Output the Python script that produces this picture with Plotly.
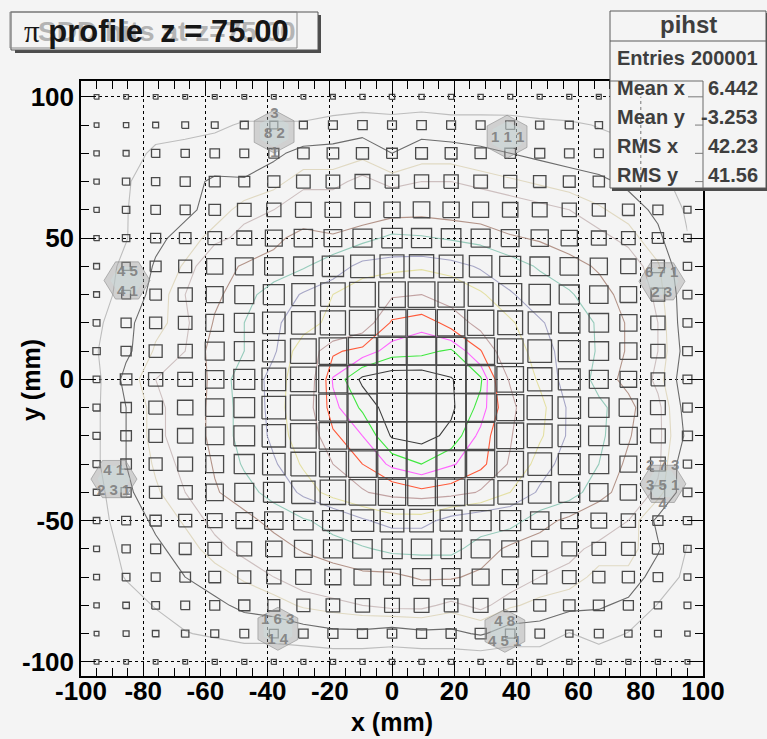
import plotly.graph_objects as go
import math

# ---------------- data ----------------
x_centers = [-95, -85.5, -76, -66.5, -57, -47.5, -38, -28.5, -19, -9.5, 0,
             9.5, 19, 28.5, 38, 47.5, 57, 66.5, 76, 85.5, 95]
y_centers = [100, 90, 80, 70, 60, 50, 40, 30, 20, 10, 0,
             -10, -20, -30, -40, -50, -60, -70, -80, -90, -100]
x_bin_width = 9.5
y_bin_width = 10
z_max = 1000

# bin contents, rows from y=100 (top) to y=-100 (bottom)
counts = [
    [160,160,160,160,160,160,160,160,165,175,180, 180,175,175,170,170,170,165,160,160,155],
    [160,180,200,230,230,270,270,270,300,320,300, 320,300,300,300,280,270,250,230,200,180],
    [180,200,280,280,320,300,340,390,390,410,360, 400,400,380,360,340,320,300,280,250,200],
    [180,250,280,340,370,370,410,460,460,500,460, 480,480,460,440,420,400,380,340,280,220],
    [180,250,320,340,390,460,480,530,530,530,550, 560,550,540,520,500,480,440,400,340,240],
    [180,250,340,390,460,500,570,620,600,640,690, 680,660,640,600,580,550,500,460,380,260],
    [200,280,370,440,550,600,620,660,720,800,810, 820,800,760,710,660,620,580,520,440,280],
    [200,300,390,480,570,640,710,780,830,870,900, 905,885,840,780,720,680,620,560,460,300],
    [230,340,410,460,600,670,760,800,850,880,945, 955,930,890,840,780,720,660,580,480,300],
    [250,340,440,480,640,670,760,870,935,950,968, 970,978,942,870,800,740,660,580,480,320],
    [230,390,480,500,620,710,800,870,962,994,1000, 1000,991,978,900,820,740,640,560,460,300],
    [240,360,460,520,620,700,800,880,955,978,1000, 998,993,970,920,850,760,690,620,500,320],
    [240,360,460,520,620,700,790,870,935,960,992, 996,986,955,910,840,760,690,600,500,340],
    [240,360,440,500,600,680,760,840,905,940,965, 975,962,950,900,800,740,670,570,500,280],
    [220,340,420,480,580,640,700,790,860,900,925, 935,930,900,830,760,710,620,550,460,300],
    [220,300,380,440,500,560,620,660,700,760,800, 800,740,710,710,620,570,530,480,340,280],
    [200,280,340,400,460,500,550,600,640,660,690, 690,690,640,570,550,500,460,460,370,250],
    [200,260,300,360,400,440,480,520,540,570,570, 600,600,570,530,480,460,410,410,320,230],
    [180,220,260,300,340,380,400,440,460,480,500, 500,460,500,440,410,390,370,340,250,230],
    [160,200,220,250,270,300,300,320,340,340,320, 340,340,370,320,320,250,300,250,230,180],
    [160,160,160,160,170,170,170,170,180,180,180, 180,180,180,180,180,180,180,170,170,160],
]

contour_levels = [255, 360, 430, 480, 590, 670, 770, 830, 905, 940, 960, 975, 990]
contour_colors = ["#bdbdbd", "#6c6c6c", "#e0d9c2", "#cdbfbf", "#b39489", "#96cbbb",
                  "#a6a6c6", "#e4e0a4", "#c2a3a3", "#ff5a3a", "#ff66ff", "#3fe83f", "#3c3c3c"]

x_ticks = [-100, -80, -60, -40, -20, 0, 20, 40, 60, 80, 100]
x_ticktext = ["-100", "-80", "-60", "-40", "-20", "0", "20", "40", "60", "80", "100"]
y_ticks = [-100, -50, 0, 50, 100]
y_ticktext = ["-100", "-50", "0", "50", "100"]

# detector modules (hexagons) drawn on top
module_x = [-37.9, 37.0, -85.2, 86.8, -89.4, 87.1, -36.7, 36.3]
module_y = [87.7, 85.9, 35.0, 34.7, -35.3, -37.0, -88.3, -89.0]
module_rot = [90, 90, 0, 0, 0, 0, 90, 90]
module_text = ["3<br>8 2<br>1", "1 1 1", "4 5<br>4 1", "6 7 1<br>2 3",
               "4 1<br>2 3 1", "2 7 3<br>3 5 1<br>4", "1 6 3<br>1 4", "4 8<br>4 5 1"]

stats_title = "pihst"
stats_labels = ["Entries", "Mean x", "Mean y", "RMS x", "RMS y"]
stats_values = ["200001", "6.442", "-3.253", "42.23", "41.56"]

# ---------------- layout geometry ----------------
W, H = 767, 739
L_M, R_M, T_M, B_M = 81, 64, 81, 63
X_RANGE = [-100, 100]
Y_RANGE = [-105, 105.6]
PW = W - L_M - R_M
PH = H - T_M - B_M
BG = "#f4f4f4"
FONT = "Liberation Sans"


def pxx(p):
    return (p - L_M) / PW


def pxy(p):
    return (H - B_M - p) / PH


fig = go.Figure()

# ---------------- boxes ----------------
bx, by = [], []
for j, yc in enumerate(y_centers):
    for i, xc in enumerate(x_centers):
        f = min(counts[j][i] / z_max, 1.0)
        hw = 0.5 * x_bin_width * f
        hh = 0.5 * y_bin_width * f
        bx += [xc - hw, xc + hw, xc + hw, xc - hw, xc - hw, None]
        by += [yc - hh, yc - hh, yc + hh, yc + hh, yc - hh, None]
fig.add_trace(go.Scatter(x=bx, y=by, mode="lines",
                         line=dict(color="#4a4a4a", width=1.3),
                         hoverinfo="skip", showlegend=False))

# ---------------- contours ----------------
y_asc = y_centers[::-1]
z_asc = counts[::-1]
for lev, col in zip(contour_levels, contour_colors):
    fig.add_trace(go.Contour(
        x=x_centers, y=y_asc, z=z_asc,
        autocontour=False,
        contours=dict(start=lev, end=lev, size=1, coloring="none"),
        line=dict(color=col, width=1.1, smoothing=0),
        showscale=False, hoverinfo="skip", showlegend=False))

shapes = []
annotations = []

# ---------------- modules ----------------
rx, ry = 7.4, 7.6
for mx, my, rot, txt in zip(module_x, module_y, module_rot, module_text):
    for scale, fill, lc in [(1.0, "rgba(150,150,150,0.38)", "rgba(140,140,140,0.6)"),
                            (0.72, "rgba(205,222,222,0.45)", "rgba(0,0,0,0)")]:
        pts = []
        for k in range(6):
            a = math.radians(rot + 60 * k)
            pts.append((mx + scale * rx * math.cos(a), my + scale * ry * math.sin(a)))
        path = "M " + " L ".join(f"{px:.3f},{py:.3f}" for px, py in pts) + " Z"
        shapes.append(dict(type="path", xref="x", yref="y", path=path,
                           fillcolor=fill, line=dict(color=lc, width=1), layer="above"))
    annotations.append(dict(x=mx, y=my, xref="x", yref="y", text=txt, showarrow=False,
                            font=dict(family=FONT, size=15, color="rgba(125,125,125,0.9)",
                                      weight="bold"),
                            align="center"))

# ---------------- title pave ----------------
shapes.append(dict(type="rect", xref="paper", yref="paper",
                   x0=pxx(15), x1=pxx(321), y0=pxy(53), y1=pxy(15),
                   fillcolor="#4d4d4d", line=dict(width=0), layer="above"))
shapes.append(dict(type="rect", xref="paper", yref="paper",
                   x0=pxx(11), x1=pxx(318), y0=pxy(50), y1=pxy(12),
                   fillcolor=BG, line=dict(color="#555555", width=1), layer="above"))
shapes.append(dict(type="rect", xref="paper", yref="paper",
                   x0=pxx(10), x1=pxx(297), y0=pxy(48), y1=pxy(12),
                   fillcolor="rgba(0,0,0,0)", line=dict(color="#888888", width=1), layer="above"))
annotations.append(dict(xref="paper", yref="paper", x=pxx(36), y=pxy(31),
                        xanchor="left", yanchor="middle", showarrow=False,
                        text="SDD hits at z=75.00",
                        font=dict(family=FONT, size=28, color="#b4b4b4", weight="bold")))
annotations.append(dict(xref="paper", yref="paper", x=pxx(22), y=pxy(31),
                        xanchor="left", yanchor="middle", showarrow=False,
                        text="<span style='font-family:Liberation Serif;font-weight:normal'>π</span>"
                             "<b> profile  z = 75.00</b>",
                        font=dict(family=FONT, size=31, color="#161616")))

# ---------------- stats box ----------------
SB_L, SB_R, SB_T, SB_B = 610, 766, 11, 188
shapes.append(dict(type="rect", xref="paper", yref="paper",
                   x0=pxx(SB_L + 2), x1=pxx(SB_R + 3), y0=pxy(SB_B + 3), y1=pxy(SB_T + 2),
                   fillcolor="#4d4d4d", line=dict(width=0), layer="above"))
shapes.append(dict(type="rect", xref="paper", yref="paper",
                   x0=pxx(SB_L), x1=pxx(SB_R), y0=pxy(SB_B), y1=pxy(SB_T),
                   fillcolor=BG, line=dict(color="#5a5a5a", width=1), layer="above"))
shapes.append(dict(type="line", xref="paper", yref="paper",
                   x0=pxx(SB_L), x1=pxx(SB_R), y0=pxy(41), y1=pxy(41),
                   line=dict(color="#5a5a5a", width=1), layer="above"))

# frame, grid and ticks redrawn over the stats box
x_top = (SB_L - L_M) / PW * (X_RANGE[1] - X_RANGE[0]) + X_RANGE[0]
y_bot = Y_RANGE[1] - (SB_B - T_M) / PH * (Y_RANGE[1] - Y_RANGE[0])
shapes.append(dict(type="line", xref="paper", yref="paper", x0=pxx(SB_L), x1=1, y0=1, y1=1,
                   line=dict(color="#6a6a6a", width=1), layer="above"))
shapes.append(dict(type="line", xref="paper", yref="paper", x0=1, x1=1, y0=pxy(SB_B), y1=1,
                   line=dict(color="#6a6a6a", width=1), layer="above"))
for xv in x_ticks:
    if x_top < xv < X_RANGE[1]:
        shapes.append(dict(type="line", xref="x", yref="y", x0=xv, x1=xv, y0=y_bot, y1=100,
                           line=dict(color="#777777", width=1, dash="dot"), layer="above"))
for yv in range(70, 101, 10):
    if yv > y_bot:
        ln = 15 if yv % 50 == 0 else 8
        shapes.append(dict(type="line", xref="paper", yref="y",
                           x0=1 - ln / PW, x1=1, y0=yv, y1=yv,
                           line=dict(color="#7a7a7a", width=1), layer="above"))

annotations.append(dict(xref="paper", yref="paper", x=pxx((SB_L + SB_R) / 2), y=pxy(25),
                        xanchor="center", yanchor="middle", showarrow=False, text=stats_title,
                        font=dict(family=FONT, size=24, color="#3e3e3e", weight="bold")))
row_y = [58, 88, 117, 146, 175]
for lab, val, ry_ in zip(stats_labels, stats_values, row_y):
    annotations.append(dict(xref="paper", yref="paper", x=pxx(615), y=pxy(ry_),
                            xanchor="left", yanchor="middle", showarrow=False, text=lab,
                            font=dict(family=FONT, size=20, color="#3e3e3e", weight="bold")))
    annotations.append(dict(xref="paper", yref="paper", x=pxx(760), y=pxy(ry_),
                            xanchor="right", yanchor="middle", showarrow=False, text=val,
                            font=dict(family=FONT, size=20, color="#3e3e3e", weight="bold")))

# axis titles
annotations.append(dict(xref="paper", yref="paper", x=0.5, y=pxy(722),
                        xanchor="center", yanchor="middle", showarrow=False, text="x (mm)",
                        font=dict(family=FONT, size=25, color="black", weight="bold")))
annotations.append(dict(xref="paper", yref="paper", x=pxx(31), y=pxy(380),
                        xanchor="center", yanchor="middle", showarrow=False, text="y (mm)",
                        textangle=-90,
                        font=dict(family=FONT, size=25, color="black", weight="bold")))

axis_common = dict(showline=True, mirror="ticks", linecolor="black", linewidth=1.5,
                   ticks="inside", tickcolor="black", ticklen=15, tickwidth=1,
                   showgrid=True, gridcolor="black", gridwidth=1, griddash="dot",
                   zeroline=False,
                   tickfont=dict(family=FONT, size=26, color="black", weight="bold"))

fig.update_layout(
    width=W, height=H,
    margin=dict(l=L_M, r=R_M, t=T_M, b=B_M, pad=0),
    paper_bgcolor=BG, plot_bgcolor=BG,
    showlegend=False,
    xaxis=dict(range=X_RANGE, tickvals=x_ticks, ticktext=x_ticktext,
               ticklabelstandoff=-9,
               minor=dict(dtick=5, tick0=0, ticklen=8, ticks="inside", tickcolor="black",
                          showgrid=False),
               **axis_common),
    yaxis=dict(range=Y_RANGE, tickvals=y_ticks, ticktext=y_ticktext,
               minor=dict(dtick=10, tick0=0, ticklen=8, ticks="inside", tickcolor="black",
                          showgrid=False),
               **axis_common),
    shapes=shapes,
    annotations=annotations,
)

fig.write_html("out.html")
